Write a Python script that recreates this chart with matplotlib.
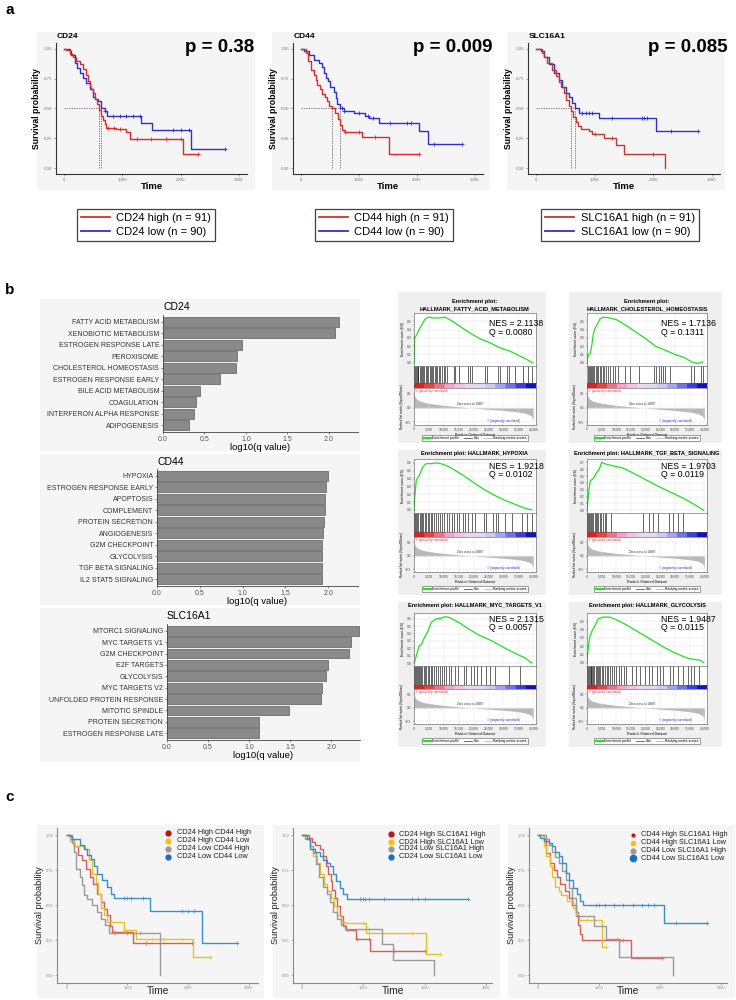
import numpy as np
import matplotlib
matplotlib.use('Agg')
import matplotlib.pyplot as plt
from matplotlib.patches import Rectangle
from matplotlib.lines import Line2D
from matplotlib.colors import LinearSegmentedColormap

plt.rcParams['font.family'] = ['Liberation Sans', 'DejaVu Sans']

# ---------------- DATA ----------------
# Panel a: Kaplan-Meier curves (time, survival) and censor times
a_genes = ['CD24', 'CD44', 'SLC16A1']
a_pvals = ['p = 0.38', 'p = 0.009', 'p = 0.085']
a_n_high = [91, 91, 91]
a_n_low = [90, 90, 90]

cd24_high_t = [0, 40, 100, 154, 210, 270, 326, 370, 411, 440, 470, 497, 526, 560, 600, 640, 669, 700, 726, 897, 1069, 1126, 2040, 2297]
cd24_high_s = [1.0, 0.99, 0.96, 0.93, 0.90, 0.87, 0.83, 0.78, 0.73, 0.68, 0.66, 0.63, 0.58, 0.54, 0.49, 0.44, 0.40, 0.37, 0.34, 0.33, 0.30, 0.245, 0.12, 0.12]
cd24_high_c = [760, 850, 960, 1250, 1500, 1750, 2000, 2297]
cd24_low_t = [0, 97, 126, 183, 230, 269, 326, 383, 440, 497, 540, 583, 640, 697, 737, 1326, 1514, 2183, 2754]
cd24_low_s = [1.0, 0.98, 0.95, 0.88, 0.84, 0.80, 0.76, 0.71, 0.66, 0.60, 0.58, 0.56, 0.50, 0.48, 0.44, 0.38, 0.32, 0.16, 0.16]
cd24_low_c = [700, 840, 960, 1070, 1190, 1300, 1870, 2010, 2150, 2754]

cd44_high_t = [0, 80, 126, 166, 223, 252, 280, 320, 366, 412, 452, 492, 538, 595, 641, 681, 710, 756, 1053, 1511, 2027]
cd44_high_s = [1.0, 0.97, 0.90, 0.82, 0.78, 0.74, 0.70, 0.66, 0.62, 0.60, 0.56, 0.52, 0.50, 0.46, 0.41, 0.36, 0.32, 0.30, 0.26, 0.12, 0.12]
cd44_high_c = [760, 1000, 1280, 2027]
cd44_low_t = [0, 52, 137, 223, 309, 366, 395, 424, 470, 509, 567, 607, 630, 665, 739, 910, 1111, 1168, 1340, 2038, 2198, 2771]
cd44_low_s = [1.0, 0.98, 0.95, 0.91, 0.88, 0.85, 0.80, 0.76, 0.73, 0.68, 0.64, 0.59, 0.54, 0.50, 0.48, 0.46, 0.44, 0.42, 0.38, 0.31, 0.20, 0.20]
cd44_low_c = [700, 740, 1000, 1150, 1250, 1530, 1830, 1900, 2300, 2771]

slc_high_t = [0, 108, 137, 194, 279, 336, 393, 422, 479, 519, 564, 604, 638, 678, 718, 764, 906, 963, 1163, 1362, 1505, 2200]
slc_high_s = [1.0, 0.97, 0.93, 0.88, 0.82, 0.77, 0.72, 0.68, 0.63, 0.57, 0.52, 0.48, 0.43, 0.39, 0.35, 0.33, 0.31, 0.29, 0.25, 0.19, 0.12, 0.0]
slc_high_c = [1000, 1300, 2000]
slc_low_t = [0, 80, 137, 222, 308, 393, 450, 507, 560, 620, 665, 740, 1077, 2046, 2770]
slc_low_s = [1.0, 0.98, 0.93, 0.87, 0.80, 0.74, 0.68, 0.63, 0.60, 0.55, 0.50, 0.46, 0.42, 0.31, 0.31]
slc_low_c = [780, 850, 900, 960, 1300, 1800, 1850, 1900, 2300, 2770]

# Panel b: hallmark enrichment, log10(q value)
cd24_terms = ['FATTY ACID METABOLISM', 'XENOBIOTIC METABOLISM', 'ESTROGEN RESPONSE LATE', 'PEROXISOME',
              'CHOLESTEROL HOMEOSTASIS', 'ESTROGEN RESPONSE EARLY', 'BILE ACID METABOLISM', 'COAGULATION',
              'INTERFERON ALPHA RESPONSE', 'ADIPOGENESIS']
cd24_vals = [2.12, 2.07, 0.95, 0.89, 0.88, 0.69, 0.45, 0.40, 0.37, 0.31]
cd44_terms = ['HYPOXIA', 'ESTROGEN RESPONSE EARLY', 'APOPTOSIS', 'COMPLEMENT', 'PROTEIN SECRETION',
              'ANGIOGENESIS', 'G2M CHECKPOINT', 'GLYCOLYSIS', 'TGF BETA SIGNALING', 'IL2 STAT5 SIGNALING']
cd44_vals = [2.00, 1.98, 1.97, 1.96, 1.95, 1.94, 1.93, 1.93, 1.93, 1.93]
slc_terms = ['MTORC1 SIGNALING', 'MYC TARGETS V1', 'G2M CHECKPOINT', 'E2F TARGETS', 'GLYCOLYSIS',
             'MYC TARGETS V2', 'UNFOLDED PROTEIN RESPONSE', 'MITOTIC SPINDLE', 'PROTEIN SECRETION',
             'ESTROGEN RESPONSE LATE']
slc_vals = [2.34, 2.24, 2.22, 1.96, 1.94, 1.89, 1.87, 1.48, 1.12, 1.12]

# Panel b: GSEA enrichment plots
gsea_titles = [['Enrichment plot:', 'HALLMARK_FATTY_ACID_METABOLISM'],
               ['Enrichment plot:', 'HALLMARK_CHOLESTEROL_HOMEOSTASIS'],
               ['Enrichment plot: HALLMARK_HYPOXIA'],
               ['Enrichment plot: HALLMARK_TGF_BETA_SIGNALING'],
               ['Enrichment plot: HALLMARK_MYC_TARGETS_V1'],
               ['Enrichment plot: HALLMARK_GLYCOLYSIS']]
gsea_nes = ['2.1138', '1.7136', '1.9218', '1.9703', '2.1315', '1.9487']
gsea_q = ['0.0080', '0.1311', '0.0102', '0.0119', '0.0057', '0.0115']

es_fatty_x = [0, 224, 785, 1680, 2465, 3585, 4700, 6390, 8630, 10300, 12000, 15350, 18700, 22070, 25430, 28800, 32150, 35500, 37750, 39800]
es_fatty_y = [0.0, 0.30, 0.33, 0.40, 0.45, 0.52, 0.55, 0.54, 0.54, 0.55, 0.52, 0.44, 0.36, 0.29, 0.24, 0.18, 0.14, 0.08, 0.04, 0.0]
es_chol_x = [0, 222, 555, 1110, 1667, 2222, 2778, 3333, 4444, 5555, 7778, 10000, 13333, 16667, 20000, 23333, 26667, 30000, 33333, 35555, 37778, 39444]
es_chol_y = [0.0, 0.06, 0.10, 0.11, 0.22, 0.36, 0.42, 0.45, 0.53, 0.55, 0.54, 0.52, 0.45, 0.37, 0.29, 0.20, 0.15, 0.10, 0.06, 0.01, -0.01, 0.01]
es_hyp_x = [0, 221, 773, 1878, 2983, 4088, 5746, 7403, 9061, 11270, 14030, 17350, 20660, 23980, 27290, 30610, 33920, 37240, 39450]
es_hyp_y = [0.0, 0.15, 0.38, 0.45, 0.55, 0.59, 0.59, 0.60, 0.59, 0.56, 0.50, 0.42, 0.33, 0.25, 0.18, 0.12, 0.07, 0.02, 0.0]
es_tgf_x = [0, 221, 663, 1105, 2210, 3315, 4199, 4972, 6077, 8840, 12150, 15470, 19890, 24310, 28730, 33150, 37570, 39780]
es_tgf_y = [0.0, 0.10, 0.30, 0.43, 0.47, 0.55, 0.60, 0.70, 0.68, 0.65, 0.62, 0.55, 0.45, 0.35, 0.26, 0.17, 0.06, 0.0]
es_myc_x = [0, 221, 773, 1657, 2431, 3536, 4641, 5746, 7403, 9061, 10500, 11820, 15140, 18450, 21770, 26190, 30610, 35030, 37240, 39450]
es_myc_y = [0.0, 0.02, 0.10, 0.23, 0.25, 0.35, 0.43, 0.55, 0.60, 0.61, 0.63, 0.62, 0.55, 0.46, 0.38, 0.30, 0.20, 0.11, 0.07, 0.0]
es_gly_x = [0, 221, 884, 1657, 2762, 3867, 5525, 7735, 9945, 13260, 16570, 19890, 23200, 26520, 29830, 33150, 34800, 36460, 38670, 39780]
es_gly_y = [0.0, 0.12, 0.30, 0.38, 0.45, 0.53, 0.55, 0.55, 0.52, 0.46, 0.39, 0.32, 0.25, 0.18, 0.12, 0.07, 0.05, 0.04, 0.03, 0.0]

hits_fatty = [100, 300, 600, 900, 1200, 1500, 1900, 2300, 2700, 3000, 3500, 3900, 4300, 4700, 5200, 5600, 6100, 6500,
              6900, 7400, 7800, 8300, 8800, 9300, 9900, 10500, 11200, 13300, 13900, 15100, 18100, 18700, 19300, 23800,
              24400, 28100, 28700, 31100, 31700, 34000, 36500, 38300, 39700]
hits_chol = [300, 600, 900, 1300, 1700, 2100, 2500, 2900, 3300, 3800, 4300, 4800, 5300, 5900, 6500, 7200, 8000, 8800,
             9700, 10600, 12800, 14500, 17800, 22800, 23500, 24400, 25300, 26000, 26700, 28300, 35500, 36600, 38900, 39400]
hits_hyp = [150, 450, 800, 1100, 1500, 1900, 2300, 2700, 3100, 3600, 4100, 4600, 5100, 5600, 6200, 6800, 7400, 8000,
            8700, 9400, 10100, 10900, 11700, 12600, 13500, 14400, 15200, 16300, 17100, 18000, 19400, 20500, 23500,
            24200, 26500, 27500, 28300, 30500, 32800, 36200, 37800, 39400]
hits_tgf = [100, 400, 700, 1000, 1400, 1800, 2200, 2600, 3000, 3400, 3800, 4300, 4800, 5300, 6100, 6600, 8300, 19000,
            21000, 22600, 24300, 27800, 29300, 30900, 32600]
hits_myc = [150, 400, 700, 1000, 1300, 1600, 2000, 2400, 2800, 3200, 3600, 4100, 4600, 5100, 5600, 6100, 6700, 7300,
            7900, 8600, 9300, 10000, 10800, 11600, 12500, 13600, 14800, 16800, 17400, 19000, 20100, 21200, 22300,
            24000, 25600, 27300, 31700, 35600]
hits_gly = [100, 350, 600, 900, 1200, 1500, 1800, 2100, 2500, 2900, 3300, 3700, 4100, 4600, 5100, 5600, 6100, 6700,
            7300, 7900, 8600, 9300, 10000, 10800, 11600, 12500, 13300, 15500, 16600, 18200, 19900, 21000, 22100,
            23800, 24900, 26000, 28200, 29300, 30900, 32600, 34300, 35400, 36500, 38100]

ranked_x = [0, 300, 1000, 2000, 4000, 7000, 10000, 14000, 19000, 24000, 29000, 33000, 36000, 38000, 39300, 40000]
ranked_y = [0.52, 0.40, 0.30, 0.24, 0.18, 0.13, 0.09, 0.05, 0.0, -0.04, -0.08, -0.12, -0.16, -0.21, -0.28, -0.42]

# Panel c: four-group KM curves
c1_labels = ['CD24 High CD44 High', 'CD24 High CD44 Low', 'CD24 Low CD44 High', 'CD24 Low CD44 Low']
c1_t = [[0, 56, 111, 178, 250, 322, 378, 433, 500, 556, 611, 667, 711, 750, 1083, 2067],
        [0, 56, 111, 306, 361, 417, 472, 511, 556, 611, 667, 944, 1139, 2083, 2361],
        [0, 83, 122, 156, 222, 250, 289, 333, 417, 500, 556, 622, 694, 1539],
        [0, 56, 83, 222, 278, 333, 389, 444, 500, 583, 656, 722, 778, 1372, 2233, 2817]]
c1_s = [[1, .97, .92, .86, .82, .76, .70, .65, .58, .52, .47, .43, .35, .31, .23, .23],
        [1, .96, .92, .90, .82, .72, .66, .58, .48, .43, .38, .32, .26, .13, .13],
        [1, .94, .88, .76, .70, .64, .57, .54, .50, .45, .40, .36, .30, 0.0],
        [1, .99, .97, .93, .90, .86, .83, .78, .72, .68, .63, .58, .55, .46, .23, .23]]
c1_c = [[780, 1000, 1300, 2067], [950, 1400, 1600, 1900, 2361], [800, 1000, 1200],
        [950, 1000, 1050, 1250, 1900, 2000, 2100, 2817]]

c2_labels = ['CD24 High SLC16A1 High', 'CD24 High SLC16A1 Low', 'CD24 Low SLC16A1 High', 'CD24 Low SLC16A1 Low']
c2_t = [[0, 107, 160, 214, 294, 348, 390, 428, 465, 497, 535, 572, 615, 669, 712, 883, 1113, 2006],
        [0, 80, 134, 187, 241, 294, 358, 401, 465, 519, 572, 642, 696, 1043, 2017, 2258],
        [0, 53, 123, 177, 230, 284, 337, 401, 455, 508, 572, 642, 696, 1311, 1482, 2151],
        [0, 80, 123, 214, 294, 348, 401, 455, 508, 562, 615, 669, 733, 2702]]
c2_s = [[1, .98, .95, .93, .90, .85, .78, .72, .67, .61, .55, .49, .42, .35, .32, .26, .17, .17],
        [1, .97, .90, .85, .80, .72, .65, .60, .55, .49, .43, .38, .37, .30, .15, .15],
        [1, .97, .92, .87, .79, .70, .63, .58, .52, .45, .40, .36, .33, .22, .11, 0.0],
        [1, .97, .90, .88, .85, .82, .80, .78, .72, .67, .62, .58, .54, .54]]
c2_c = [[900, 1100, 1500, 2006], [1000, 1100, 1800, 2258], [1100],
        [950, 990, 1030, 1100, 1330, 1800, 1900, 2000, 2702]]

c3_labels = ['CD44 High SLC16A1 High', 'CD44 High SLC16A1 Low', 'CD44 Low SLC16A1 High', 'CD44 Low SLC16A1 Low']
c3_t = [[0, 93, 137, 192, 258, 313, 368, 434, 505, 560, 615, 654, 687, 725, 1522, 2028],
        [0, 93, 137, 192, 231, 286, 341, 379, 478, 577, 615, 670, 1055, 1110],
        [0, 137, 176, 231, 286, 341, 396, 451, 505, 560, 615, 654, 918, 1110, 1330, 2209],
        [0, 38, 93, 176, 231, 286, 341, 396, 451, 505, 577, 632, 687, 742, 2060, 2775]]
c3_s = [[1, .97, .87, .80, .75, .70, .65, .60, .55, .50, .42, .36, .29, .25, .125, .125],
        [1, .92, .85, .78, .70, .63, .60, .57, .53, .48, .43, .39, .20, .20],
        [1, .97, .93, .88, .84, .80, .74, .68, .62, .55, .45, .42, .35, .26, .13, 0.0],
        [1, .98, .96, .94, .92, .88, .85, .80, .73, .68, .62, .58, .53, .50, .375, .375]]
c3_c = [[1350, 1400, 2028], [800, 1110], [1300],
        [950, 1000, 1100, 1250, 1400, 1550, 1700, 1800, 1900, 2270, 2775]]

# ---------------- LAYOUT HELPERS ----------------
W, H = 736, 1000
fig = plt.figure(figsize=(W / 100, H / 100), dpi=100)


def ax_px(x0, y0, x1, y1):
    ax = fig.add_axes([x0 / W, 1 - y1 / H, (x1 - x0) / W, (y1 - y0) / H])
    ax.set_facecolor('none')
    return ax


def bg_px(x0, y0, x1, y1, color='#f5f5f5'):
    fig.add_artist(Rectangle((x0 / W, 1 - y1 / H), (x1 - x0) / W, (y1 - y0) / H,
                             transform=fig.transFigure, facecolor=color, edgecolor='none', zorder=-100))


def ftext(x, y, s, **kw):
    fig.text(x / W, 1 - y / H, s, **kw)


def km(ax, t, s, c, color, lw=1.0, ms=3.0, mew=0.6):
    t = np.asarray(t, float)
    s = np.asarray(s, float)
    ax.step(t, s, where='post', color=color, lw=lw)
    c = np.asarray(c, float)
    idx = np.searchsorted(t, c, side='right') - 1
    ax.plot(c, s[idx], ls='none', marker='+', color=color, ms=ms, mew=mew)


def style_km(ax, xlim, ylim, spine='#333333', tickc='#777777', tfs=3.2):
    ax.set_xlim(*xlim)
    ax.set_ylim(*ylim)
    for sp in ['top', 'right']:
        ax.spines[sp].set_visible(False)
    for sp in ['left', 'bottom']:
        ax.spines[sp].set_color(spine)
        ax.spines[sp].set_linewidth(0.8)
    ax.set_yticks([0, 0.25, 0.5, 0.75, 1.0])
    ax.set_yticklabels(['0.00', '0.25', '0.50', '0.75', '1.00'])
    ax.set_xticks([0, 1000, 2000, 3000])
    ax.tick_params(labelsize=tfs, colors=tickc, length=1.5, width=0.5, pad=1.2)


# ---------------- PANEL a ----------------
ftext(5, 10, 'a', fontsize=11, weight='bold', ha='left', va='center')
a_ax_x = [(56, 247), (293, 483), (528, 720)]
a_bg_x = [(37, 255), (272, 490), (507, 725)]
a_p_x = [220, 453, 688]
a_leg_x = [146, 384, 620]
a_curves = [(cd24_high_t, cd24_high_s, cd24_high_c, cd24_low_t, cd24_low_s, cd24_low_c),
            (cd44_high_t, cd44_high_s, cd44_high_c, cd44_low_t, cd44_low_s, cd44_low_c),
            (slc_high_t, slc_high_s, slc_high_c, slc_low_t, slc_low_s, slc_low_c)]
a_red = ['#e02a2a', '#e02a2a', '#c0392b']
a_blue = '#2f2fd0'
for i in range(3):
    x0, x1 = a_ax_x[i]
    bg_px(a_bg_x[i][0], 32, a_bg_x[i][1], 190)
    ax = ax_px(x0, 43, x1, 174)
    ht, hs, hc, lt, ls_, lc = a_curves[i]
    meds = []
    for tt, ss in [(ht, hs), (lt, ls_)]:
        ss = np.asarray(ss)
        meds.append(np.asarray(tt)[np.argmax(ss <= 0.5)])
    ax.plot([0, max(meds)], [0.5, 0.5], ls=(0, (2, 1.5)), color='#555555', lw=0.5)
    for m in meds:
        ax.plot([m, m], [0, 0.5], ls=(0, (2, 1.5)), color='#555555', lw=0.5)
    km(ax, lt, ls_, lc, a_blue, lw=1.0, ms=3)
    km(ax, ht, hs, hc, a_red[i], lw=1.0, ms=3)
    style_km(ax, (-137, 3139), (-0.05, 1.05))
    ax.set_ylabel('Survival probability', fontsize=6.2, weight='bold', labelpad=2)
    ax.set_xlabel('Time', fontsize=6.8, weight='bold', labelpad=0)
    ftext(x0 + 1, 36, a_genes[i], fontsize=6, weight='bold', ha='left', va='center')
    ftext(a_p_x[i], 48, a_pvals[i], fontsize=13.5, weight='bold', ha='center', va='center')
    handles = [Line2D([], [], color=a_red[i], lw=1.3), Line2D([], [], color=a_blue, lw=1.3)]
    labels = [f'{a_genes[i]} high (n = {a_n_high[i]})', f'{a_genes[i]} low (n = {a_n_low[i]})']
    leg = fig.legend(handles, labels, loc='center', bbox_to_anchor=(a_leg_x[i] / W, 1 - 225 / H),
                     fontsize=8, frameon=True, fancybox=False, edgecolor='#111111',
                     handlelength=2.6, borderpad=0.35, labelspacing=0.3, handletextpad=0.6)
    leg.get_frame().set_linewidth(0.9)

# ---------------- PANEL b: bar charts ----------------
ftext(5, 290, 'b', fontsize=11, weight='bold', ha='left', va='center')


def bars(x0, top, x1, bottom, title, title_y, cats, vals):
    ax = ax_px(x0, top, x1, bottom)
    y = np.arange(len(cats))[::-1]
    ax.barh(y, vals, height=0.86, color='#8a8a8a', edgecolor='#5c5c5c', lw=0.5)
    ax.set_ylim(-0.6, len(cats) - 0.4)
    ax.set_xlim(0, 2.35)
    ax.set_yticks(y)
    ax.set_yticklabels(cats, fontsize=5, color='#333333')
    ax.set_xticks([0, 0.5, 1.0, 1.5, 2.0])
    ax.set_xticklabels(['0.0', '0.5', '1.0', '1.5', '2.0'], fontsize=5, color='#555555')
    ax.tick_params(length=1.5, width=0.5, pad=1.2, colors='#555555')
    ax.tick_params(axis='y', labelcolor='#333333')
    ax.set_xlabel('log10(q value)', fontsize=6.8, labelpad=0.5)
    for sp in ['top', 'right']:
        ax.spines[sp].set_visible(False)
    for sp in ['left', 'bottom']:
        ax.spines[sp].set_color('#444444')
        ax.spines[sp].set_linewidth(0.6)
    ftext(x0, title_y, title, fontsize=7.5, ha='left', va='center')


bg_px(40, 299, 360, 451)
bg_px(40, 454, 360, 605)
bg_px(40, 608, 360, 762)
bars(163, 315, 358, 432, 'CD24', 307, cd24_terms, cd24_vals)
bars(157, 469, 358, 586, 'CD44', 462, cd44_terms, cd44_vals)
bars(167, 624, 360, 740, 'SLC16A1', 616, slc_terms, slc_vals)

# ---------------- PANEL b: GSEA plots ----------------
gs_x = [(414, 536), (587, 707)]
gs_bg_x = [(398, 546), (569, 722)]
gs_rows = [dict(bg=(292, 443), title=302, es=(313, 366), hits=(366, 383), cb=(383, 388), rk=(388, 425), leg=438, nes=(0.80, 0.64)),
           dict(bg=(450, 595), title=454, es=(459, 513), hits=(513, 532), cb=(532, 537), rk=(537, 572), leg=589, nes=(0.87, 0.72)),
           dict(bg=(602, 747), title=606, es=(613, 666), hits=(666, 685), cb=(685, 689), rk=(689, 724), leg=741, nes=(0.87, 0.72))]
gs_data = [(es_fatty_x, es_fatty_y, hits_fatty), (es_chol_x, es_chol_y, hits_chol),
           (es_hyp_x, es_hyp_y, hits_hyp), (es_tgf_x, es_tgf_y, hits_tgf),
           (es_myc_x, es_myc_y, hits_myc), (es_gly_x, es_gly_y, hits_gly)]
cmap = LinearSegmentedColormap.from_list('gsea', ['#e02020', '#ee5050', '#f59ac4', '#f2c8e4', '#e4e2f6',
                                                  '#cfd0f4', '#9a9cf0', '#5050e6', '#1010c8'], N=12)
XMAX = 40900


def thin_spines(ax):
    for sp in ax.spines.values():
        sp.set_linewidth(0.4)
        sp.set_color('#555555')


for k in range(6):
    row, col = k // 2, k % 2
    g = gs_rows[row]
    x0, x1 = gs_x[col]
    bg_px(gs_bg_x[col][0], g['bg'][0], gs_bg_x[col][1], g['bg'][1], '#efefef')
    for j, line in enumerate(gsea_titles[k]):
        ftext((x0 + x1) / 2, g['title'] + j * 7, line, fontsize=4.1, weight='bold', ha='center', va='center')
    ex, ey, hits = gs_data[k]
    ax1 = ax_px(x0, g['es'][0], x1, g['es'][1])
    ax1.set_facecolor('white')
    ax1.grid(color='#e2e2e2', lw=0.3)
    ax1.plot(ex, ey, color='#22e022', lw=0.9)
    ax1.set_xlim(0, XMAX)
    top = max(ey)
    ax1.set_ylim(-0.04, top + 0.05)
    ax1.set_yticks(np.arange(0, top + 0.001, 0.1))
    ax1.set_yticklabels([f'{v:.1f}' for v in np.arange(0, top + 0.001, 0.1)])
    ax1.set_xticks(np.arange(0, 40001, 5000))
    ax1.set_xticklabels([])
    ax1.tick_params(labelsize=2.4, length=1, width=0.3, pad=1, colors='#444444')
    ax1.set_ylabel('Enrichment score (ES)', fontsize=2.4, labelpad=1)
    thin_spines(ax1)
    ax1.text(0.615, g['nes'][0], f'NES = {gsea_nes[k]}', transform=ax1.transAxes, fontsize=6.3, va='center', ha='left')
    ax1.text(0.615, g['nes'][1], f'Q = {gsea_q[k]}', transform=ax1.transAxes, fontsize=6.3, va='center', ha='left')
    ax2 = ax_px(x0, g['hits'][0], x1, g['hits'][1])
    ax2.set_facecolor('white')
    ax2.vlines(hits, 0, 1, color='#111111', lw=0.45)
    ax2.set_xlim(0, XMAX)
    ax2.set_ylim(0, 1)
    ax2.set_xticks([])
    ax2.set_yticks([])
    thin_spines(ax2)
    ax3 = ax_px(x0, g['cb'][0], x1, g['cb'][1])
    ax3.imshow(np.linspace(0, 1, 300)[None, :], aspect='auto', cmap=cmap, extent=[0, XMAX, 0, 1])
    ax3.set_xticks([])
    ax3.set_yticks([])
    thin_spines(ax3)
    ax4 = ax_px(x0, g['rk'][0], x1, g['rk'][1])
    ax4.set_facecolor('white')
    ax4.grid(color='#e2e2e2', lw=0.3)
    ax4.fill_between(ranked_x, ranked_y, 0, color='#b8b8b8', lw=0)
    ax4.set_xlim(0, XMAX)
    ax4.set_ylim(-0.6, 0.7)
    ax4.set_yticks([-0.5, 0.0, 0.5])
    ax4.set_xticks(np.arange(0, 40001, 5000))
    ax4.set_xticklabels([f'{v:,}' for v in range(0, 40001, 5000)])
    ax4.tick_params(labelsize=2.3, length=1, width=0.3, pad=0.8, colors='#444444')
    ax4.set_xlabel('Rank in Ordered Dataset', fontsize=2.6, labelpad=0.8)
    ax4.set_ylabel('Ranked list metric (Signal2Noise)', fontsize=2.2, labelpad=1)
    thin_spines(ax4)
    ax4.text(300, 0.66, "'h' (positively correlated)", fontsize=2.2, color='#e03030', va='top')
    ax4.text(19000, 0.1, 'Zero cross at 18987', fontsize=2.2, color='#333333', ha='center')
    ax4.text(30000, -0.48, "'l' (negatively correlated)", fontsize=2.2, color='#3030e0', ha='center')
    handles = [Line2D([], [], color='#22e022', lw=1.5), Line2D([], [], color='#333333', lw=0.5),
               Line2D([], [], color='#aaaaaa', lw=0.5)]
    lg = fig.legend(handles, ['Enrichment profile', 'Hits', 'Ranking metric scores'], loc='center',
                    bbox_to_anchor=((x0 + x1) / 2 / W, 1 - g['leg'] / H), ncol=3, fontsize=2.4,
                    frameon=True, fancybox=False, edgecolor='#333333', handlelength=2.2,
                    columnspacing=1.5, borderpad=0.4, handletextpad=0.5)
    lg.get_frame().set_linewidth(0.4)

# ---------------- PANEL c ----------------
ftext(5, 797, 'c', fontsize=11, weight='bold', ha='left', va='center')
c_line_cols = ['#d4605c', '#e8c020', '#9a9a9a', '#3a8fcb']
c_dot_cols = ['#cc1010', '#ffc000', '#9a9a9a', '#1a6fc4']
c_ax = [(57, 258, (-165, 3157)), (293, 492, (-147, 3100)), (529, 727, (-148, 3098))]
c_bg = [(37, 264), (273, 500), (508, 735)]
c_leg = [(168, 177, [833, 841, 849, 857], [3.5, 3.5, 3.5, 3.5]),
         (391, 399, [834, 842, 849, 857], [3.5, 3.5, 3.5, 3.5]),
         (633, 641, [835, 843, 851, 858], [2.0, 3.0, 3.5, 4.5])]
c_sets = [(c1_t, c1_s, c1_c, c1_labels), (c2_t, c2_s, c2_c, c2_labels), (c3_t, c3_s, c3_c, c3_labels)]
for i in range(3):
    x0, x1, xl = c_ax[i]
    bg_px(c_bg[i][0], 825, c_bg[i][1], 998)
    ax = ax_px(x0, 828, x1, 983)
    tt, ss, cc, labs = c_sets[i]
    for j in range(4):
        km(ax, tt[j], ss[j], cc[j], c_line_cols[j], lw=1.0, ms=2.5, mew=0.5)
    style_km(ax, xl, (-0.057, 1.05), spine='#8a8a8a', tickc='#888888', tfs=2.8)
    ax.tick_params(axis='x', pad=0.8)
    ax.set_ylabel('Survival probability', fontsize=6.6, color='#222222', labelpad=1.5)
    ftext((x0 + x1) / 2, 991.5, 'Time', fontsize=7.4, color='#222222', ha='center', va='center')
    dx, tx, ys, msz = c_leg[i]
    for j in range(4):
        fig.add_artist(Line2D([dx / W], [1 - ys[j] / H], marker='o', color=c_dot_cols[j], ms=msz[j],
                              ls='none', transform=fig.transFigure))
        ftext(tx, ys[j], labs[j], fontsize=5.3, ha='left', va='center', color='#222222')

fig.savefig('out.png', dpi=100, facecolor='white')
